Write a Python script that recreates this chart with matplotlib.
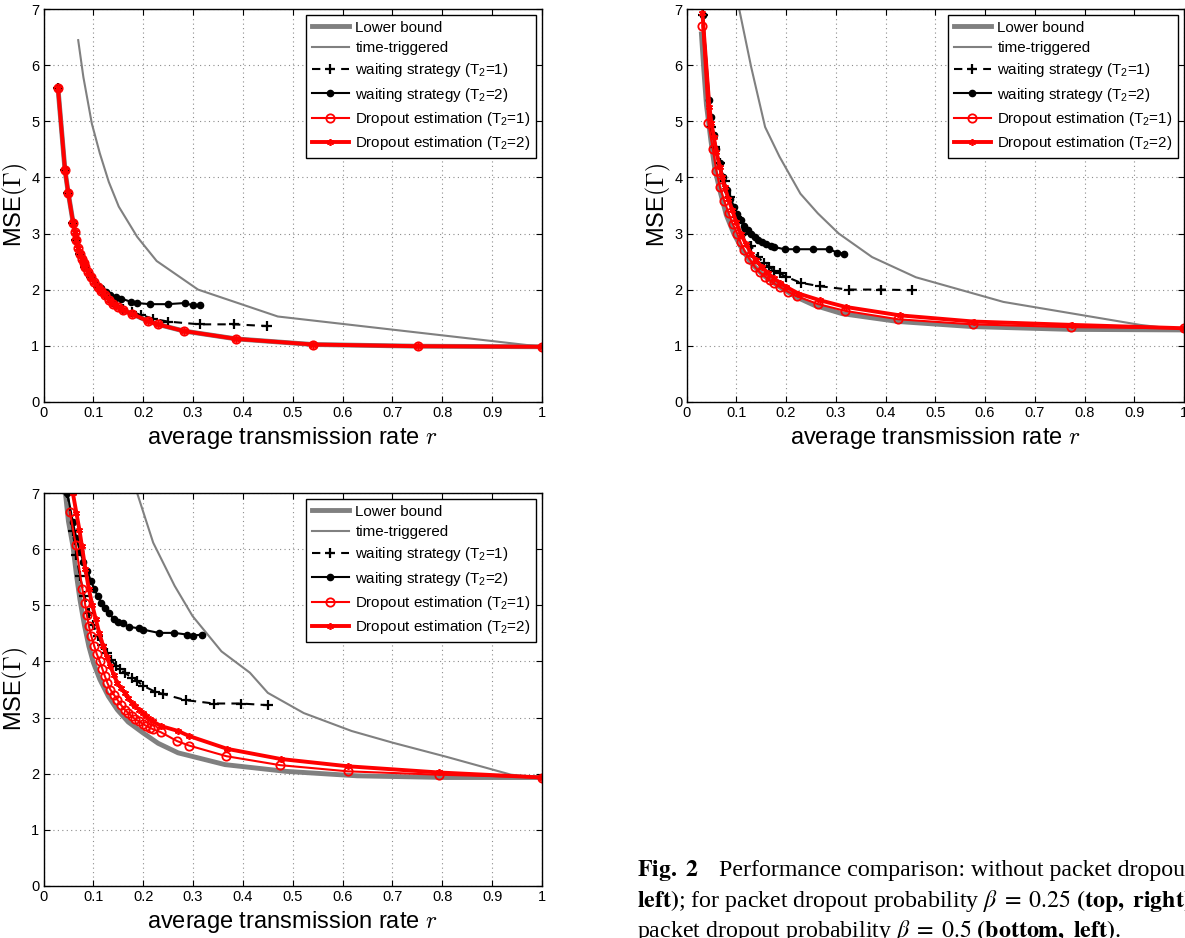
import matplotlib
matplotlib.use("Agg")
import matplotlib.pyplot as plt
import matplotlib.ticker as ticker
from matplotlib.font_manager import FontProperties

plt.rcParams["font.family"] = ["Liberation Sans", "DejaVu Sans"]
plt.rcParams["mathtext.fontset"] = "custom"
plt.rcParams["mathtext.rm"] = "Liberation Sans"
plt.rcParams["mathtext.it"] = "Liberation Sans:italic"
plt.rcParams["mathtext.bf"] = "Liberation Sans:bold"

GRAY = (0.5, 0.5, 0.5)
RED = (1.0, 0.0, 0.0)

# ---- top left: no packet dropout ----
lb0_x = [0.029, 0.043, 0.0495, 0.0595, 0.066, 0.073, 0.084, 0.095, 0.109, 0.123, 0.140,
         0.159, 0.177, 0.209, 0.229, 0.282, 0.387, 0.541, 0.751, 1.0]
lb0_y = [5.6, 4.14, 3.73, 3.19, 2.88, 2.64, 2.41, 2.23, 2.05, 1.90, 1.75,
         1.63, 1.57, 1.44, 1.38, 1.26, 1.12, 1.02, 0.99, 0.98]
tt0_x = [0.0696, 0.080, 0.097, 0.113, 0.131, 0.151, 0.188, 0.227, 0.31, 0.47, 1.0]
tt0_y = [6.45, 5.79, 4.96, 4.43, 3.92, 3.48, 2.94, 2.51, 2.0, 1.52, 0.98]
w10_x = [0.029, 0.043, 0.0495, 0.0595, 0.066, 0.073, 0.084, 0.095, 0.109, 0.123, 0.140,
         0.159, 0.177, 0.195, 0.22, 0.249, 0.313, 0.382, 0.448]
w10_y = [5.6, 4.14, 3.73, 3.19, 2.88, 2.64, 2.41, 2.23, 2.05, 1.91, 1.77,
         1.66, 1.60, 1.55, 1.48, 1.43, 1.38, 1.38, 1.35]
w20_x = [0.029, 0.043, 0.0495, 0.0595, 0.066, 0.073, 0.084, 0.095, 0.109, 0.116, 0.125,
         0.134, 0.145, 0.156, 0.176, 0.188, 0.213, 0.249, 0.283, 0.299, 0.313]
w20_y = [5.6, 4.14, 3.73, 3.19, 2.88, 2.64, 2.41, 2.23, 2.07, 2.02, 1.96,
         1.91, 1.87, 1.84, 1.78, 1.76, 1.74, 1.74, 1.76, 1.72, 1.73]
d10_x = [0.029, 0.043, 0.0495, 0.0595, 0.063, 0.066, 0.070, 0.073, 0.077, 0.081, 0.084,
         0.089, 0.095, 0.101, 0.109, 0.116, 0.123, 0.131, 0.140, 0.149, 0.159, 0.177,
         0.209, 0.229, 0.282, 0.387, 0.541, 0.751, 1.0]
d10_y = [5.6, 4.14, 3.73, 3.19, 3.03, 2.88, 2.74, 2.64, 2.55, 2.47, 2.41,
         2.32, 2.23, 2.14, 2.05, 1.97, 1.90, 1.82, 1.75, 1.69, 1.63, 1.57,
         1.44, 1.38, 1.26, 1.12, 1.02, 0.99, 0.98]
d20_x = d10_x
d20_y = d10_y

# ---- top right: beta = 0.25 ----
lb1_x = [0.030, 0.035, 0.040, 0.049, 0.057, 0.067, 0.080, 0.095, 0.110, 0.13, 0.155,
         0.187, 0.22, 0.257, 0.313, 0.426, 0.574, 0.771, 1.0]
lb1_y = [6.56, 5.9, 5.3, 4.66, 4.15, 3.77, 3.33, 3.0, 2.75, 2.47, 2.25,
         2.05, 1.87, 1.72, 1.57, 1.43, 1.34, 1.29, 1.28]
tt1_x = [0.106, 0.13, 0.158, 0.187, 0.229, 0.264, 0.306, 0.373, 0.461, 0.637, 0.912, 1.0]
tt1_y = [7.0, 5.97, 4.9, 4.37, 3.71, 3.36, 3.0, 2.58, 2.22, 1.78, 1.37, 1.28]
w11_x = [0.033, 0.049, 0.058, 0.067, 0.077, 0.088, 0.102, 0.116, 0.130, 0.144, 0.155,
         0.165, 0.176, 0.187, 0.2, 0.23, 0.268, 0.326, 0.39, 0.454]
w11_y = [6.9, 4.9, 4.55, 4.25, 3.93, 3.65, 3.3, 3.0, 2.78, 2.58, 2.48,
         2.41, 2.34, 2.29, 2.23, 2.12, 2.06, 2.0, 2.0, 1.99]
w21_x = [0.033, 0.046, 0.049, 0.055, 0.060, 0.067, 0.074, 0.081, 0.088, 0.095, 0.102,
         0.109, 0.116, 0.123, 0.130, 0.137, 0.144, 0.151, 0.160, 0.169, 0.176, 0.197,
         0.22, 0.255, 0.287, 0.303, 0.317]
w21_y = [6.9, 5.38, 5.08, 4.75, 4.5, 4.25, 4.0, 3.77, 3.62, 3.48, 3.35,
         3.24, 3.14, 3.06, 3.0, 2.94, 2.89, 2.85, 2.81, 2.77, 2.76, 2.72,
         2.72, 2.72, 2.72, 2.66, 2.64]
d11_x = [0.032, 0.044, 0.053, 0.060, 0.067, 0.076, 0.085, 0.093, 0.102, 0.109, 0.116,
         0.126, 0.137, 0.147, 0.158, 0.167, 0.176, 0.187, 0.204, 0.222, 0.265, 0.319,
         0.426, 0.575, 0.773, 1.0]
d11_y = [6.71, 4.97, 4.50, 4.12, 3.83, 3.58, 3.36, 3.17, 3.0, 2.84, 2.70,
         2.55, 2.41, 2.31, 2.23, 2.17, 2.11, 2.05, 1.96, 1.88, 1.74, 1.62,
         1.47, 1.38, 1.33, 1.31]
d21_x = [0.032, 0.046, 0.050, 0.055, 0.060, 0.067, 0.072, 0.077, 0.084, 0.092, 0.100,
         0.109, 0.119, 0.13, 0.14, 0.151, 0.163, 0.176, 0.188, 0.2, 0.225, 0.268,
         0.32, 0.429, 0.577, 0.775, 1.0]
d21_y = [6.93, 5.26, 4.98, 4.72, 4.45, 4.19, 4.0, 3.83, 3.62, 3.42, 3.2,
         3.0, 2.82, 2.64, 2.52, 2.41, 2.30, 2.20, 2.12, 2.05, 1.93, 1.81,
         1.69, 1.54, 1.43, 1.37, 1.31]

# ---- bottom left: beta = 0.5 ----
lb2_x = [0.044, 0.05, 0.059, 0.066, 0.073, 0.082, 0.091, 0.1, 0.113, 0.13, 0.148,
         0.17, 0.199, 0.23, 0.27, 0.364, 0.486, 0.629, 0.808, 1.0]
lb2_y = [7.0, 6.5, 6.06, 5.55, 5.11, 4.65, 4.27, 3.98, 3.68, 3.38, 3.14,
         2.92, 2.73, 2.54, 2.37, 2.16, 2.04, 1.96, 1.93, 1.93]
tt2_x = [0.188, 0.22, 0.263, 0.299, 0.357, 0.414, 0.45, 0.522, 0.618, 0.701, 0.808, 0.938, 1.0]
tt2_y = [7.0, 6.12, 5.35, 4.81, 4.18, 3.8, 3.44, 3.08, 2.76, 2.55, 2.30, 1.98, 1.93]
w12_x = [0.048, 0.059, 0.066, 0.073, 0.082, 0.091, 0.100, 0.109, 0.118, 0.127, 0.136,
         0.145, 0.154, 0.163, 0.177, 0.188, 0.199, 0.224, 0.24, 0.285, 0.342, 0.396, 0.451]
w12_y = [7.0, 6.33, 5.9, 5.52, 5.17, 4.87, 4.65, 4.45, 4.29, 4.15, 4.03,
         3.92, 3.86, 3.8, 3.71, 3.65, 3.57, 3.46, 3.42, 3.31, 3.25, 3.25, 3.22]
w22_x = [0.048, 0.059, 0.066, 0.073, 0.080, 0.088, 0.095, 0.102, 0.109, 0.116, 0.123,
         0.131, 0.141, 0.150, 0.159, 0.171, 0.192, 0.199, 0.231, 0.262, 0.288, 0.299, 0.317]
w22_y = [7.0, 6.48, 6.2, 5.97, 5.78, 5.61, 5.44, 5.29, 5.16, 5.05, 4.95,
         4.87, 4.75, 4.71, 4.68, 4.62, 4.59, 4.57, 4.51, 4.51, 4.48, 4.46, 4.48]
d12_x = [0.053, 0.065, 0.078, 0.083, 0.087, 0.091, 0.096, 0.102, 0.107, 0.113, 0.118,
         0.123, 0.128, 0.134, 0.141, 0.148, 0.155, 0.163, 0.170, 0.177, 0.184, 0.192,
         0.199, 0.206, 0.213, 0.22, 0.235, 0.268, 0.292, 0.367, 0.475, 0.611, 0.793, 1.0]
d12_y = [6.67, 6.07, 5.29, 5.05, 4.83, 4.63, 4.45, 4.27, 4.13, 4.0, 3.87,
         3.74, 3.62, 3.5, 3.41, 3.32, 3.23, 3.14, 3.08, 3.02, 2.97, 2.93,
         2.89, 2.85, 2.82, 2.79, 2.74, 2.58, 2.5, 2.31, 2.15, 2.04, 1.98, 1.93]
d22_x = [0.059, 0.066, 0.072, 0.077, 0.084, 0.091, 0.098, 0.105, 0.112, 0.12, 0.127,
         0.134, 0.141, 0.148, 0.155, 0.163, 0.170, 0.177, 0.184, 0.192, 0.199, 0.206,
         0.213, 0.22, 0.235, 0.27, 0.292, 0.369, 0.476, 0.611, 0.793, 1.0]
d22_y = [7.0, 6.65, 6.35, 6.06, 5.65, 5.29, 5.0, 4.75, 4.5, 4.27, 4.08,
         3.92, 3.76, 3.62, 3.53, 3.44, 3.35, 3.26, 3.2, 3.14, 3.08, 3.02,
         2.97, 2.93, 2.85, 2.76, 2.67, 2.44, 2.26, 2.13, 2.02, 1.93]

labels = [
    "Lower bound",
    "time-triggered",
    "waiting strategy (T$_2$=1)",
    "waiting strategy (T$_2$=2)",
    "Dropout estimation (T$_2$=1)",
    "Dropout estimation (T$_2$=2)",
]

W, H = 1185, 938
fig = plt.figure(figsize=(W / 100, H / 100), dpi=100)


def axes_px(left, top, width, height):
    return fig.add_axes([left / W, 1 - (top + height) / H, width / W, height / H])


def draw_panel(ax, lb, tt, w1, w2, d1, d2):
    ax.plot(*lb, color=GRAY, lw=3.5, label=labels[0])
    ax.plot(*tt, color=GRAY, lw=1.5, label=labels[1])
    ax.plot(*w1, color="k", lw=1.5, ls=(0, (4, 3)), marker="+", ms=7, mew=1.6,
            label=labels[2])
    ax.plot(*w2, color="k", lw=1.5, marker="o", ms=4.5, label=labels[3])
    ax.plot(*d1, color=RED, lw=1.5, marker="o", ms=6, mfc="none", mew=1.3,
            label=labels[4])
    ax.plot(*d2, color=RED, lw=2.8, marker=(6, 2, 0), ms=5, mew=1.2, label=labels[5])

    ax.set_xlim(0, 1)
    ax.set_ylim(0, 7)
    ax.xaxis.set_major_locator(ticker.MultipleLocator(0.1))
    ax.yaxis.set_major_locator(ticker.MultipleLocator(1))
    ax.xaxis.set_major_formatter(ticker.FuncFormatter(lambda v, p: "%g" % round(v, 2)))
    ax.yaxis.set_major_formatter(ticker.FuncFormatter(lambda v, p: "%g" % v))
    ax.tick_params(direction="in", length=4, width=0.8, top=True, right=True,
                   labelsize=10.5, pad=3)
    ax.grid(True, color="0.55", linestyle=(0, (1, 3)), linewidth=0.8)
    for s in ax.spines.values():
        s.set_linewidth(1.0)
    ax.set_xlabel("average transmission rate $r$", fontsize=17, labelpad=4,
                  math_fontfamily="cm")
    ax.set_ylabel(r"MSE$(\Gamma)$", fontsize=17, labelpad=0.5, math_fontfamily="cm")
    prop = FontProperties(family="Liberation Sans", size=10.9, math_fontfamily="custom")
    leg = ax.legend(loc="upper right", prop=prop, frameon=True, fancybox=False,
                    edgecolor="k", framealpha=1, borderaxespad=0.4, handlelength=2.5,
                    handletextpad=0.4, labelspacing=0.42, borderpad=0.35)
    leg.get_frame().set_linewidth(1.0)


ax1 = axes_px(43.5, 9.3, 498.5, 392.4)
draw_panel(ax1, (lb0_x, lb0_y), (tt0_x, tt0_y), (w10_x, w10_y), (w20_x, w20_y),
           (d10_x, d10_y), (d20_x, d20_y))

ax2 = axes_px(686.5, 9.3, 497.5, 392.4)
draw_panel(ax2, (lb1_x, lb1_y), (tt1_x, tt1_y), (w11_x, w11_y), (w21_x, w21_y),
           (d11_x, d11_y), (d21_x, d21_y))

ax3 = axes_px(43.5, 493.3, 498.5, 392.4)
draw_panel(ax3, (lb2_x, lb2_y), (tt2_x, tt2_y), (w12_x, w12_y), (w22_x, w22_y),
           (d12_x, d12_y), (d22_x, d22_y))

# caption (cut off by the right edge, as in the page scan)
cap = dict(fontsize=17.2, family=["Liberation Serif", "DejaVu Serif"],
           math_fontfamily="stix", va="baseline", ha="left")
fig.text(637 / W, 1 - 876 / H, r"$\mathbf{Fig.\ 2}$", **cap)
fig.text(719 / W, 1 - 876 / H,
         "Performance comparison: without packet dropout (top,", **cap)
fig.text(637 / W, 1 - 907 / H,
         r"$\mathbf{left)}$; for packet dropout probability $\beta\;=\;0.25$ "
         r"$\mathbf{(top,\ right)}$; for", **cap)
fig.text(637 / W, 1 - 937 / H,
         r"packet dropout probability $\beta\;=\;0.5$ $\mathbf{(bottom,\ left)}$.", **cap)

fig.savefig("out.png", dpi=100)
